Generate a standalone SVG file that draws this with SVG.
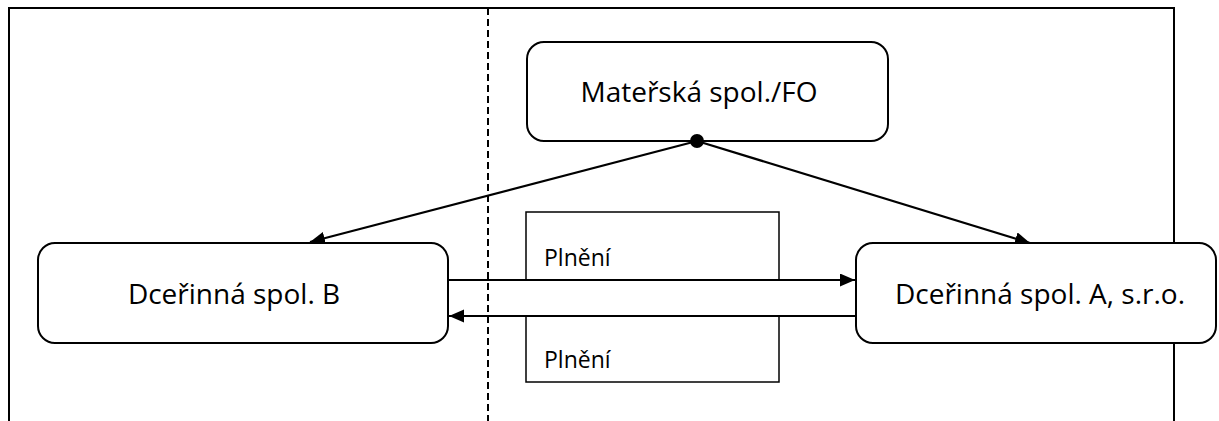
<svg xmlns="http://www.w3.org/2000/svg" width="1219" height="421" viewBox="0 0 1219 421">
  <style>
    .frame { stroke: #000; stroke-width: 2; fill: none; }
    .dash { stroke: #000; stroke-width: 2; stroke-dasharray: 7 4; fill: none; }
    .node { fill: #fff; stroke: #000; stroke-width: 2; }
    .lbl { fill: #fff; stroke: #000; stroke-width: 1.5; }
    .edge { stroke: #000; stroke-width: 2.2; fill: none; }
    .t { font-family: "Open Sans", "Noto Sans", sans-serif; fill: #000; }
    .big { font-size: 28px; text-anchor: middle; }
    .small { font-size: 23px; }
  </style>
  <defs>
    <marker id="arr" markerUnits="userSpaceOnUse" markerWidth="16" markerHeight="14" refX="15" refY="6.5" orient="auto">
      <path d="M0,0 L15,6.5 L0,13 z" fill="#000"/>
    </marker>
  </defs>

  <g id="frame">
    <path class="frame" d="M9,421 V8 H1174 V421"/>
    <line class="dash" x1="488" y1="8" x2="488" y2="421"/>
  </g>

  <g id="label-upper">
    <rect class="lbl" x="526" y="212" width="253" height="68"/>
    <text class="t small" x="544" y="266">Plnění</text>
  </g>
  <g id="label-lower">
    <rect class="lbl" x="526" y="316" width="253" height="66"/>
    <text class="t small" x="544" y="368">Plnění</text>
  </g>

  <g id="connectors">
    <line class="edge" x1="697" y1="141" x2="310" y2="242" marker-end="url(#arr)"/>
    <line class="edge" x1="697" y1="141" x2="1030" y2="243" marker-end="url(#arr)"/>
    <line class="edge" x1="449" y1="280" x2="855" y2="280" marker-end="url(#arr)"/>
    <line class="edge" x1="855" y1="316" x2="449" y2="316" marker-end="url(#arr)"/>
  </g>

  <g id="node-mother">
    <rect class="node" x="527" y="42" width="361" height="99" rx="17" ry="17"/>
    <text class="t big" x="699" y="102">Mateřská spol./FO</text>
  </g>
  <g id="node-b">
    <rect class="node" x="38" y="243" width="410" height="100" rx="17" ry="17"/>
    <text class="t big" x="234" y="304">Dceřinná spol. B</text>
  </g>
  <g id="node-a">
    <rect class="node" x="856" y="243" width="360" height="100" rx="17" ry="17"/>
    <text class="t big" x="1040" y="304">Dceřinná spol. A, s.r.o.</text>
  </g>
  <g id="junction">
    <circle cx="697" cy="141" r="7" fill="#000"/>
  </g>
</svg>
